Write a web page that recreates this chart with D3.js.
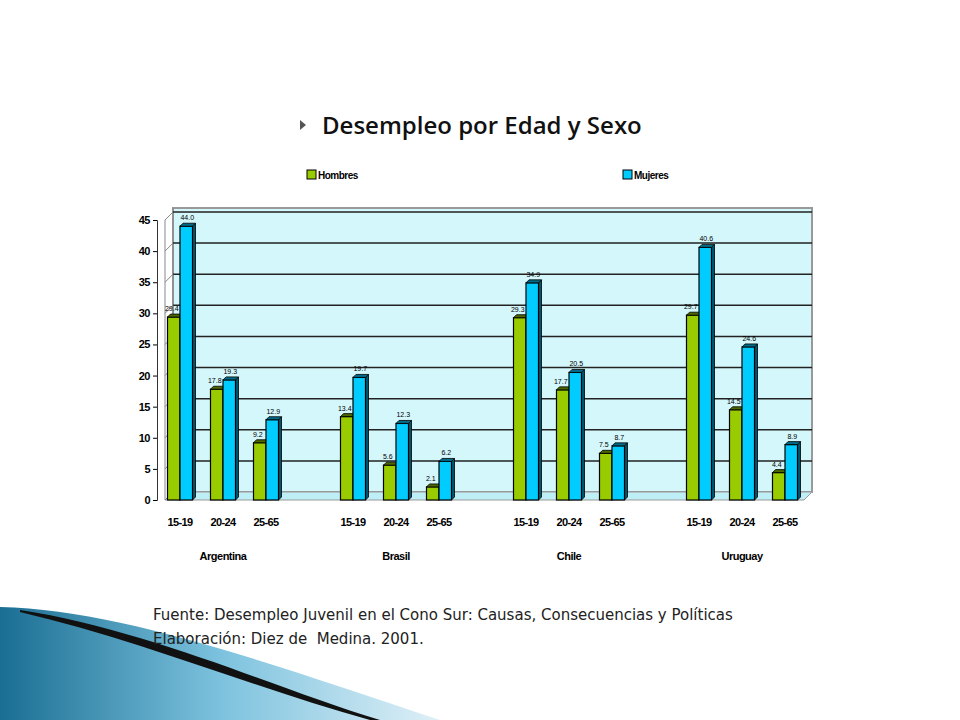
<!DOCTYPE html><html><head><meta charset="utf-8"><script src="https://cdn.jsdelivr.net/npm/d3@7"></script>
<style>body{margin:0;background:#fff}</style></head><body><svg id="c" width="960" height="720"></svg>
<script>
const countries=["Argentina","Brasil","Chile","Uruguay"];
const ages=["15-19","20-24","25-65"];
const hombres=[[29.4,17.8,9.2],[13.4,5.6,2.1],[29.3,17.7,7.5],[29.7,14.5,4.4]];
const mujeres=[[44.0,19.3,12.9],[19.7,12.3,6.2],[34.9,20.5,8.7],[40.6,24.6,8.9]];
const yTicks=[0,5,10,15,20,25,30,35,40,45];
const F="Liberation Sans, Arial, sans-serif";
const svg=d3.select("#c");
const defs=svg.append("defs");
const g1=defs.append("linearGradient").attr("id","sw").attr("x1",0).attr("x2",1);
g1.append("stop").attr("offset",0).attr("stop-color","#1a6e93");
g1.append("stop").attr("offset",0.5).attr("stop-color","#7cc2de");
g1.append("stop").attr("offset",1).attr("stop-color","#dff0f7");
svg.append("path").attr("d","M0,607 C120,610 260,660 440,720 L0,720Z").attr("fill","url(#sw)");
svg.append("path").attr("d","M20,610 C150,630 280,690 380,720 L370,720 C260,690 140,640 20,612Z").attr("fill","#111");
svg.append("path").attr("d","M300,125 l6,-5 l-6,-5z").attr("fill","#555").attr("transform","translate(0,5)");
svg.append("text").attr("x",322).attr("y",134).text("Desempleo por Edad y Sexo").attr("font-family","Open Sans").attr("font-weight",600).attr("font-size",24).attr("fill","#111");
const y=d3.scaleLinear().domain([0,45]).range([500,220]);
const dx=8,dy=8;
const left=165,right=812;
svg.append("rect").attr("x",left+dx).attr("y",y(45)-dy-4).attr("width",right-left-dx).attr("height",y(0)-y(45)+4).attr("fill","#d4f7fb").attr("stroke","#999").attr("stroke-width",2);
svg.append("path").attr("d",`M${left},${y(0)} L${left+dx},${y(0)-dy} L${right},${y(0)-dy} L${right-dx},${y(0)}Z`).attr("fill","#bfeff6").attr("stroke","#999");
svg.append("line").attr("x1",left+dx).attr("x2",left+dx).attr("y1",y(45)-dy-4).attr("y2",y(0)-dy).attr("stroke","#888");
svg.append("line").attr("x1",left).attr("x2",left).attr("y1",y(45)).attr("y2",y(0)).attr("stroke","#888");
yTicks.forEach(t=>{ if(t>0) svg.append("line").attr("x1",left+dx).attr("x2",right).attr("y1",y(t)-dy).attr("y2",y(t)-dy).attr("stroke","#222").attr("stroke-width",1.5);
 svg.append("line").attr("x1",left).attr("x2",left+dx).attr("y1",y(t)).attr("y2",y(t)-dy).attr("stroke","#888");});
const ax=svg.append("g").attr("transform",`translate(${left-8},0)`).call(d3.axisLeft(y).tickValues(yTicks).tickSize(4));
ax.select(".domain").attr("stroke","#333");ax.selectAll("text").attr("font-family",F).attr("font-size",11).attr("font-weight","bold").attr("letter-spacing",-0.5);
const bw=12.5;
function bar(x,v,fill,top,side){
 const yt=y(v),yb=y(0);
 svg.append("path").attr("d",`M${x+bw},${yb} L${x+bw+3},${yb-3} L${x+bw+3},${yt-3} L${x+bw},${yt}Z`).attr("fill",side).attr("stroke","#000").attr("stroke-width",0.8);
 svg.append("rect").attr("x",x).attr("y",yt).attr("width",bw).attr("height",yb-yt).attr("fill",fill).attr("stroke","#000").attr("stroke-width",1.2);
 svg.append("path").attr("d",`M${x},${yt} L${x+3},${yt-3} L${x+bw+3},${yt-3} L${x+bw},${yt}Z`).attr("fill",top).attr("stroke","#000").attr("stroke-width",0.8);
}
const step=43;
countries.forEach((c,ci)=>{
 const base=180+ci*173;
 ages.forEach((a,ai)=>{
  const cx=base+ai*step;
  bar(cx-bw,hombres[ci][ai],"#99cc00","#4d6600","#3d5200");
  bar(cx,mujeres[ci][ai],"#00ccff","#006b88","#005570");
  svg.append("text").attr("x",cx-bw/2-2).attr("y",y(hombres[ci][ai])-6).attr("text-anchor","middle").attr("font-size",7).attr("font-family",F).text(hombres[ci][ai].toFixed(1));
  svg.append("text").attr("x",cx+bw/2+1).attr("y",y(mujeres[ci][ai])-6).attr("text-anchor","middle").attr("font-size",7).attr("font-family",F).text(mujeres[ci][ai].toFixed(1));
  svg.append("text").attr("x",cx).attr("y",526).attr("text-anchor","middle").attr("font-size",11).attr("font-family",F).attr("font-weight","bold").attr("letter-spacing",-0.6).text(a);
 });
 svg.append("text").attr("x",base+step).attr("y",560).attr("text-anchor","middle").attr("font-size",11).attr("font-family",F).attr("font-weight","bold").attr("letter-spacing",-0.5).text(c);
});
[["Hombres","#99cc00",307],["Mujeres","#00ccff",623]].forEach(([t,c,x])=>{
 svg.append("rect").attr("x",x).attr("y",170).attr("width",9).attr("height",9).attr("fill",c).attr("stroke","#000");
 svg.append("text").attr("x",x+11).attr("y",179).attr("font-size",10).attr("font-family",F).attr("font-weight","bold").attr("letter-spacing",-0.5).text(t);
});
const foot=["Fuente: Desempleo Juvenil en el Cono Sur: Causas, Consecuencias y Políticas","Elaboración: Diez de  Medina. 2001."];
foot.forEach((t,i)=>svg.append("text").attr("x",153).attr("y",620+i*24).attr("font-size",15).attr("font-family","DejaVu Sans").attr("fill","#222").attr("xml:space","preserve").text(t));
</script></body></html>
